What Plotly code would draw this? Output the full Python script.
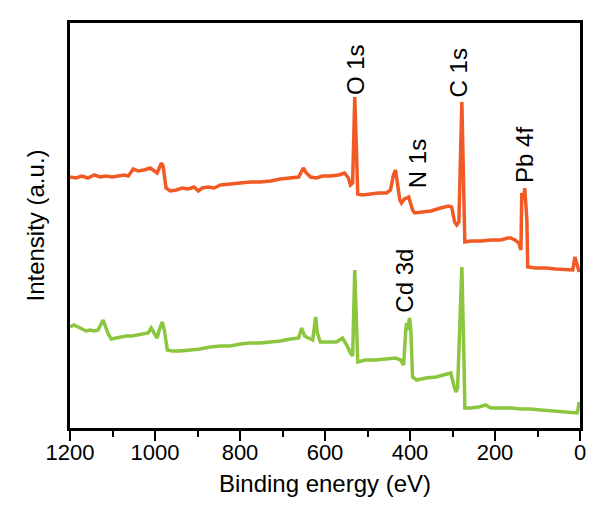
import plotly.graph_objects as go

# Binding energy (eV) and intensity (a.u.)
orange_x = [1200, 1186, 1172, 1158, 1143, 1129, 1115, 1101, 1087, 1073, 1063, 1051, 1040, 1026, 1011, 1002, 995, 985, 981,
            974, 964, 950, 936, 922, 908, 898, 889, 875, 861, 846, 823, 799, 776, 752, 728, 705, 681, 662, 651, 644, 634,
            620, 606, 587, 568, 554, 545, 540, 535, 530, 526, 523, 512, 493, 474, 455, 446, 439, 434, 429, 424, 420, 413,
            403, 398, 394, 389, 375, 351, 328, 309, 302, 295, 290, 285, 278, 273, 271, 257, 233, 210, 186, 170, 163, 153,
            144, 139, 137, 132, 130, 125, 123, 104, 80, 57, 33, 17, 12, 7, 2]
orange_y = [251, 250, 252, 250, 253, 251, 252, 251, 252, 253, 252, 259, 257, 258, 260, 257, 255, 265, 262,
            240, 237, 238, 240, 239, 241, 237, 240, 241, 240, 243, 244, 245, 246, 246, 247, 249, 250, 251, 260, 255, 251,
            250, 252, 252, 253, 255, 250, 243, 245, 331, 278, 234, 233, 234, 235, 235, 238, 253, 258, 243, 228, 225, 229,
            231, 225, 218, 215, 216, 217, 220, 222, 221, 206, 203, 206, 326, 228, 186, 187, 187, 188, 188, 190, 190, 188,
            185, 178, 235, 228, 240, 208, 161, 160, 160, 159, 158, 158, 171, 163, 156]

green_x = [1200, 1191, 1181, 1172, 1162, 1153, 1143, 1134, 1127, 1122, 1117, 1110, 1103, 1094, 1082, 1068, 1054, 1040,
           1026, 1016, 1009, 1002, 995, 990, 983, 978, 971, 960, 941, 917, 894, 870, 846, 823, 799, 776, 752, 728, 705,
           681, 662, 655, 648, 639, 629, 622, 618, 611, 592, 573, 559, 549, 540, 535, 530, 526, 523, 505, 481, 457, 434,
           422, 415, 410, 408, 406, 401, 398, 394, 384, 363, 339, 316, 304, 297, 292, 288, 278, 273, 271, 257, 238, 222,
           210, 186, 163, 139, 116, 92, 68, 45, 21, 7, 5, 2]
green_y = [101, 103, 101, 99, 97, 98, 97, 98, 103, 108, 102, 94, 89, 90, 91, 92, 92, 93,
           94, 95, 100, 95, 90, 98, 106, 98, 78, 77, 77, 78, 79, 81, 82, 82, 84, 85, 85, 86, 87,
           89, 90, 100, 92, 90, 88, 111, 95, 86, 86, 86, 90, 83, 75, 72, 158, 98, 66, 68, 68, 69, 70,
           68, 63, 98, 105, 98, 110, 98, 51, 48, 50, 51, 54, 55, 43, 36, 40, 161, 68, 20, 20, 21, 23,
           20, 20, 20, 19, 19, 18, 17, 16, 15, 15, 18, 26]

# Peak labels: text, energy (eV), intensity where the label starts
label_text = ["O 1s", "C 1s", "N 1s", "Pb 4f", "Cd 3d"]
label_x = [528, 285, 382, 132, 415]
label_y = [331, 329, 238, 243, 113]

FONT = "Liberation Sans, Arial, sans-serif"

fig = go.Figure()
fig.add_trace(go.Scatter(x=orange_x, y=orange_y, mode="lines",
                         line=dict(color="#F15A24", width=3.5), showlegend=False))
fig.add_trace(go.Scatter(x=green_x, y=green_y, mode="lines",
                         line=dict(color="#8CC63F", width=3.5), showlegend=False))

for t, x, y in zip(label_text, label_x, label_y):
    fig.add_annotation(x=x, y=y, text=t, textangle=-90, showarrow=False,
                       xanchor="center", yanchor="bottom",
                       font=dict(family=FONT, size=24, color="black"))

# the page body adds an 8 px offset, so margins compensate for it
fig.update_layout(
    width=600, height=510,
    margin=dict(l=62, r=28, t=15, b=90),
    plot_bgcolor="white", paper_bgcolor="white",
    font=dict(family=FONT, color="black"),
)
fig.update_xaxes(
    range=[1200, 0], tickvals=[1200, 1000, 800, 600, 400, 200, 0],
    ticks="outside", ticklen=10, tickwidth=2, tickcolor="black",
    minor=dict(dtick=100, tick0=0, ticks="outside", ticklen=6, tickwidth=2, tickcolor="black"),
    showline=True, linecolor="black", linewidth=2.5, mirror=True,
    showgrid=False, zeroline=False,
    tickfont=dict(size=22, family=FONT), ticklabelstandoff=-7,
    title=dict(text="Binding energy (eV)", font=dict(size=24, family=FONT), standoff=12),
)
fig.update_yaxes(
    range=[0, 405], showticklabels=False, ticks="",
    showline=True, linecolor="black", linewidth=2.5, mirror=True,
    showgrid=False, zeroline=False,
    title=dict(text="Intensity (a.u.)", font=dict(size=24, family=FONT), standoff=16),
)

fig.write_html("out.html")
